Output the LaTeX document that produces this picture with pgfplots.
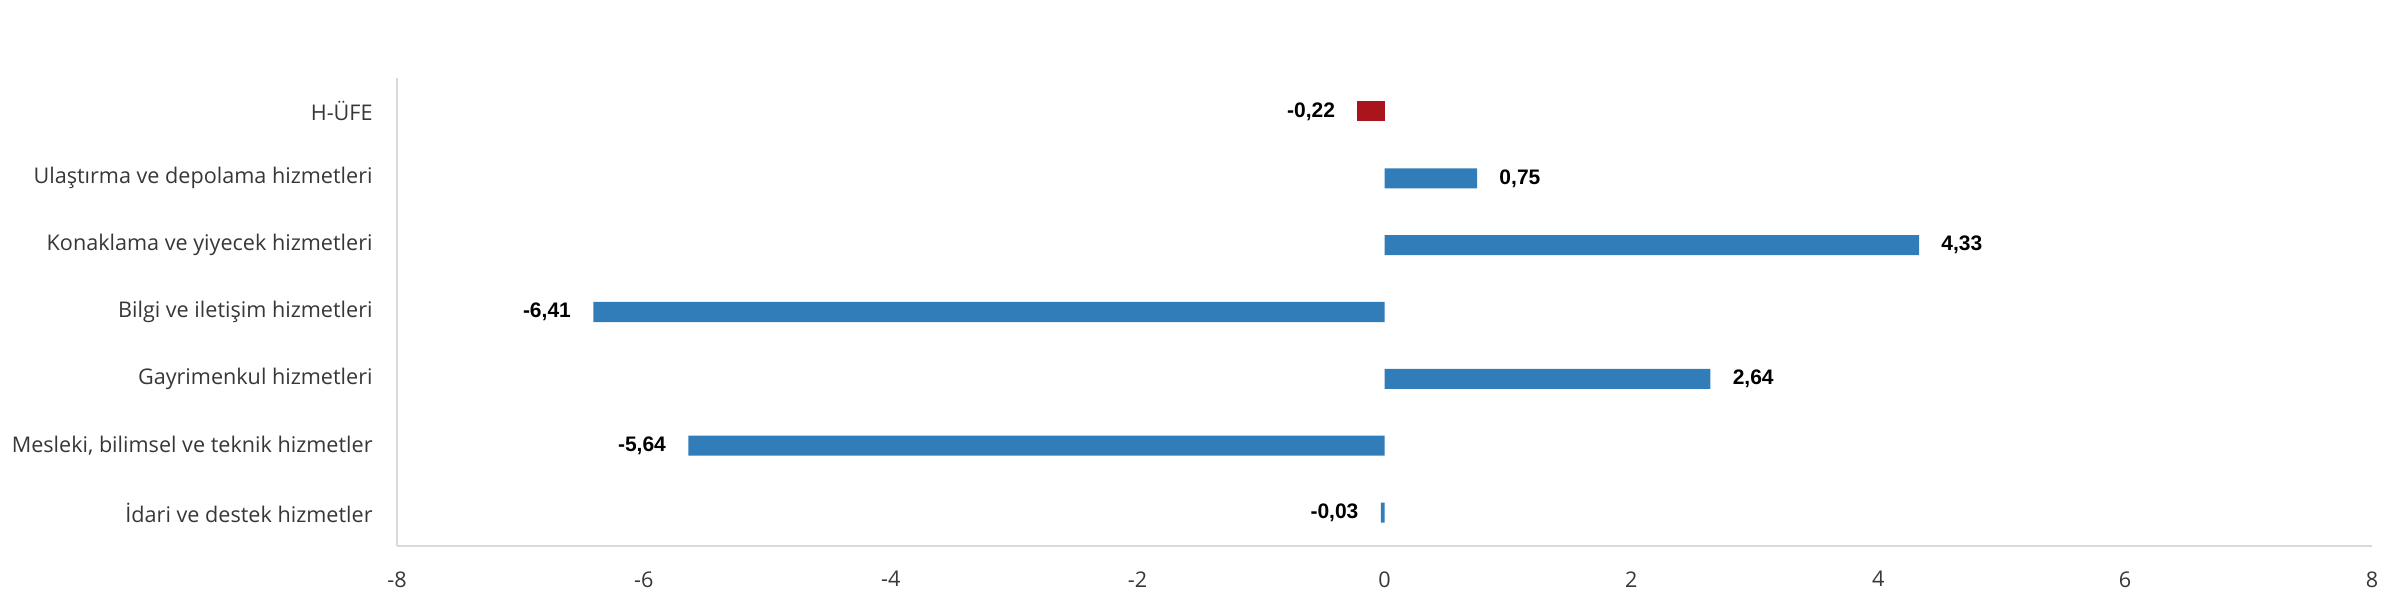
\documentclass[border=0pt]{standalone}
\usepackage{pgfplots}
\pgfplotsset{compat=1.18}
\usepackage{fontspec}
\setmainfont{Open Sans}
\newfontfamily\valfont{Liberation Sans}
\definecolor{barblue}{RGB}{49,125,185}
\definecolor{barred}{RGB}{170,20,28}
\definecolor{axgrey}{RGB}{217,217,217}
\definecolor{txt}{RGB}{55,55,55}
\begin{document}
\begin{tikzpicture}
\path[use as bounding box] (-198.5bp,-27bp) rectangle (993.5bp,273bp);
\begin{axis}[
  scale only axis, width=987.5bp, height=234bp,
  xmin=-8, xmax=8, ymin=-0.5, ymax=6.5,
  xbar, bar width=0.3, bar shift=0pt,
  axis x line=bottom, axis y line=left,
  axis line style={axgrey, line width=1bp, -},
  xtick={-8,-6,...,8}, xticklabels={-8,-6,-4,-2,0,2,4,6,8},
  ytick={0,...,6},
  yticklabels={İdari ve destek hizmetler, {Mesleki, bilimsel ve teknik hizmetler}, Gayrimenkul hizmetleri, Bilgi ve iletişim hizmetleri, Konaklama ve yiyecek hizmetleri, Ulaştırma ve depolama hizmetleri, H-ÜFE},
  major tick length=0pt,
  tick label style={font=\fontsize{10.8bp}{12bp}\selectfont, text=txt},
  yticklabel style={inner xsep=0pt, xshift=-12bp},
  xticklabel style={inner ysep=0pt, yshift=-12.5bp},
  nodes near coords, point meta=explicit symbolic,
  valnode/.style={every node near coord/.append style={font=\valfont\bfseries\fontsize{10.5bp}{12bp}\selectfont, text=black, inner xsep=11bp, inner ysep=0pt, anchor=#1}},
]
% positive values (label to the right)
\addplot[fill=barblue, draw=none, valnode=west] table[meta=l] {
x y l
2.64 2 2,64
4.33 4 4,33
0.75 5 0,75
};
% negative values (label to the left)
\addplot[fill=barblue, draw=none, valnode=east] table[meta=l] {
x y l
-0.03 0 -0,03
-5.64 1 -5,64
-6.41 3 -6,41
};
\addplot[fill=barred, draw=none, valnode=east] table[meta=l] {
x y l
-0.22 6 -0,22
};
\end{axis}
\end{tikzpicture}
\end{document}
